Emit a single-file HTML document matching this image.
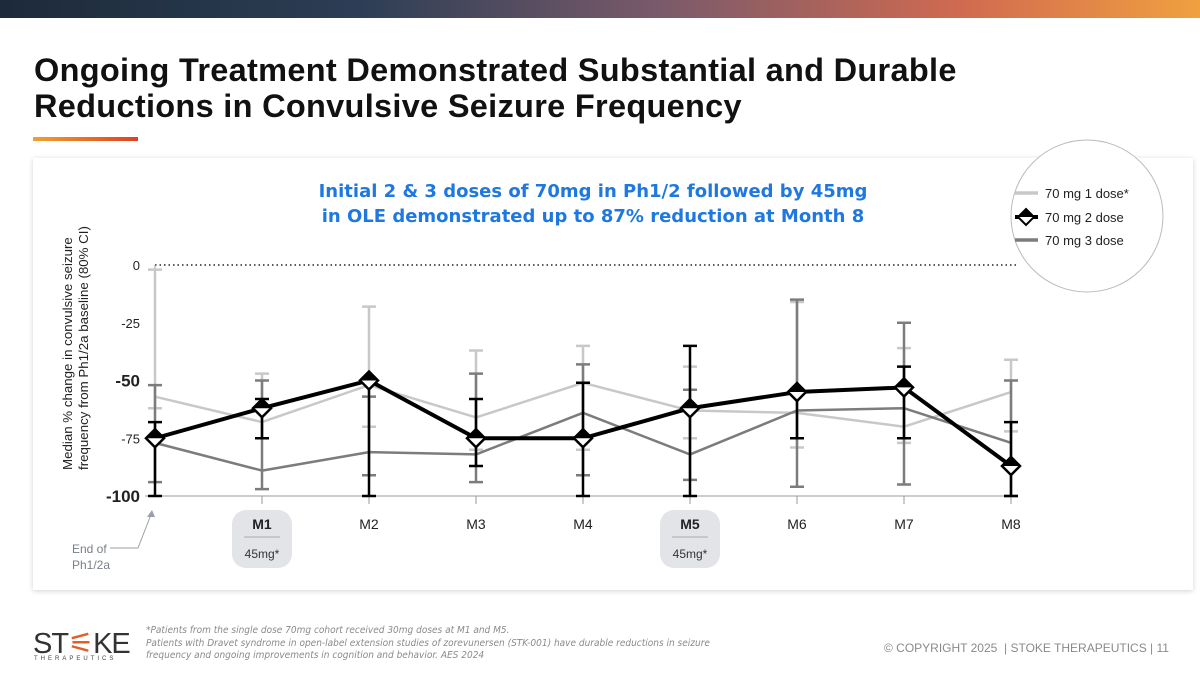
<!DOCTYPE html>
<html><head><meta charset="utf-8">
<style>
body{margin:0;width:1200px;height:675px;overflow:hidden;background:#fff;font-family:"Liberation Sans",sans-serif;position:relative}
.topbar{position:absolute;left:0;top:0;width:1200px;height:18px;background:linear-gradient(90deg,#1d2a3a 0%,#2c3e55 30%,#7a5a6a 55%,#d06a50 80%,#f0a040 100%)}
h1{position:absolute;left:34px;top:52px;margin:0;font-size:32.5px;line-height:36px;font-weight:bold;color:#111;font-family:"Liberation Sans",sans-serif;letter-spacing:0.3px;white-space:nowrap}
.uline{position:absolute;left:33px;top:137px;width:105px;height:4px;background:linear-gradient(90deg,#f0a030,#e04020)}
.card{position:absolute;left:33px;top:158px;width:1160px;height:432px;background:#fff;box-shadow:0 1px 5px rgba(0,0,0,0.18)}
.foot{position:absolute;color:#8a8a8a;font-style:italic;font-size:10px;font-family:"DejaVu Sans Condensed","Liberation Sans Narrow","Liberation Sans",sans-serif}
</style></head><body>
<div class="topbar"></div>
<h1>Ongoing Treatment Demonstrated Substantial and Durable<br>Reductions in Convulsive Seizure Frequency</h1>
<div class="uline"></div>
<div class="card"></div>
<svg id="chart" width="1200" height="675" style="position:absolute;left:0;top:0"></svg>
<div class="foot" style="left:146px;top:625px">*Patients from the single dose 70mg cohort received 30mg doses at M1 and M5.</div>
<div class="foot" style="left:146px;top:638px;line-height:12px;width:600px">Patients with Dravet syndrome in open-label extension studies of zorevunersen (STK-001) have durable reductions in seizure frequency and ongoing improvements in cognition and behavior. AES 2024</div>
<div style="position:absolute;left:33px;top:626px;font-size:29px;color:#333;letter-spacing:-1px">ST<span style="color:#e0602a">⚟</span>KE</div>
<div style="position:absolute;left:34px;top:656px;font-size:6px;color:#444;letter-spacing:3px">THERAPEUTICS</div>
<div style="position:absolute;left:884px;top:641px;font-size:12px;color:#8a8a8a">© COPYRIGHT 2025 &nbsp;| STOKE THERAPEUTICS | 11</div>
<script>
const cats=["BL","M1","M2","M3","M4","M5","M6","M7","M8"];
const dose1=[-57,-68,-52,-66,-51,-63,-64,-70,-55];
const dose1Hi=[-2,-47,-18,-37,-35,-44,-16,-36,-41];
const dose1Lo=[-62,-75,-70,-80,-80,-75,-79,-77,-72];
const dose3=[-77,-89,-81,-82,-64,-82,-63,-62,-77];
const dose3Hi=[-52,-50,-57,-47,-43,-54,-15,-25,-50];
const dose3Lo=[-94,-97,-91,-94,-91,-93,-96,-95,-100];
const dose2=[-75,-62,-50,-75,-75,-62,-55,-53,-87];
const dose2Hi=[-68,-58,-50,-58,-51,-35,-55,-44,-68];
const dose2Lo=[-100,-75,-100,-87,-100,-100,-75,-75,-100];
const yTicks=[0,-25,-50,-75,-100];
const xLabels=["M1","M2","M3","M4","M5","M6","M7","M8"];
const svg=document.getElementById('chart');const NS="http://www.w3.org/2000/svg";
const X=i=>155+i*107.0;const Y=v=>265-v*2.31;
function mk(t,a,p){const e=document.createElementNS(NS,t);for(const k in a)e.setAttribute(k,a[k]);(p||svg).appendChild(e);return e;}
[1,5].forEach(i=>{const r=mk('rect',{x:X(i)-30,y:510,width:60,height:58,rx:14,fill:"#e2e4e8"});

mk('line',{x1:X(i)-18,x2:X(i)+18,y1:537,y2:537,stroke:"#aaa"});
const t=mk('text',{x:X(i),y:558,"text-anchor":"middle","font-size":12,fill:"#333"});t.textContent="45mg*";
});
["Initial 2 & 3 doses of 70mg in Ph1/2 followed by 45mg","in OLE demonstrated up to 87% reduction at Month 8"].forEach((s,k)=>{
const t=mk('text',{x:593,y:197+k*25,"text-anchor":"middle","font-size":18,"font-weight":"bold",fill:"#1f78e0","font-family":"DejaVu Sans, Liberation Sans, sans-serif"});t.textContent=s;
});
const lc=mk('circle',{cx:1087,cy:216,r:76,fill:"#fff",stroke:"#bbb"});

mk('line',{x1:155,x2:1018,y1:Y(0),y2:Y(0),stroke:"#222","stroke-width":1.5,"stroke-dasharray":"1.5,3"});
mk('line',{x1:155,x2:155,y1:Y(0),y2:Y(-100),stroke:"#999"});
mk('line',{x1:145,x2:1018,y1:Y(-100),y2:Y(-100),stroke:"#999"});
yTicks.forEach(v=>{const big=(v==-50||v==-100);const t=mk('text',{x:140,y:Y(v)+(big?6:5),"text-anchor":"end","font-size":big?17:13,"font-weight":big?"bold":"normal",fill:"#222"});t.textContent=v;
});
xLabels.forEach((s,i)=>{mk('line',{x1:X(i+1),x2:X(i+1),y1:Y(-100),y2:Y(-100)+8,stroke:"#999"});
const b=(i==0||i==4);const t=mk('text',{x:X(i+1),y:529,"text-anchor":"middle","font-size":14,"font-weight":b?"bold":"normal",fill:"#222"});t.textContent=s;
});
[["Median % change in convulsive seizure",72],["frequency from Ph1/2a baseline (80% CI)",88]].forEach(([s,x])=>{
const t=mk('text',{x:x,y:470,"text-anchor":"start","font-size":13.3,fill:"#222",transform:`rotate(-90 ${x} 470)`});t.textContent=s;
});
let t1=mk('text',{x:72,y:553,"font-size":12,fill:"#7a8088"});t1.textContent="End of";

let t2=mk('text',{x:72,y:569,"font-size":12,fill:"#7a8088"});t2.textContent="Ph1/2a";

mk('path',{d:"M110 548 L138 548 L152 512",fill:"none",stroke:"#9aa0a8"});
mk('path',{d:"M152 510 l-5 7 l8 0 z",fill:"#9aa0a8"});
function series(vals,hi,lo,col,w,name,ew){
 vals.forEach((v,i)=>{const x=X(i);const e=mk('path',{d:`M${x} ${Y(hi[i])}V${Y(lo[i])}M${x-7} ${Y(hi[i])}h14M${x-7} ${Y(lo[i])}h14`,stroke:col,"stroke-width":ew,fill:"none"});
 });
 const p=mk('polyline',{points:vals.map((v,i)=>X(i)+","+Y(v)).join(" "),fill:"none",stroke:col,"stroke-width":w,"stroke-linejoin":"round"});
 
}
series(dose1,dose1Hi,dose1Lo,"#c8c8c8",2.5,"dose1",2.5);
series(dose3,dose3Hi,dose3Lo,"#7c7c7c",2.5,"dose3",2.5);
series(dose2,dose2Hi,dose2Lo,"#000",4,"dose2",2.5);
dose2.forEach((v,i)=>{const x=X(i),y=Y(v);
 const d=mk('path',{d:`M${x} ${y-9}L${x+9} ${y}L${x} ${y+9}L${x-9} ${y}Z`,fill:"#fff",stroke:"#000","stroke-width":2.5});
 
 mk('path',{d:`M${x} ${y-9}L${x+9} ${y}L${x-9} ${y}Z`,fill:"#000"});});
[["70 mg 1 dose*","#c8c8c8",193],["70 mg 2 dose","#000",217],["70 mg 3 dose","#7c7c7c",240]].forEach(([s,c,y],k)=>{
 const l=mk('line',{x1:1015,x2:1038,y1:y,y2:y,stroke:c,"stroke-width":k==1?4:3.5});
 
 if(k==1){mk('path',{d:`M1026 ${y-8}L1034 ${y}L1026 ${y+8}L1018 ${y}Z`,fill:"#fff",stroke:"#000","stroke-width":2});mk('path',{d:`M1026 ${y-8}L1034 ${y}L1018 ${y}Z`,fill:"#000"});}
 const t=mk('text',{x:1045,y:y+5,"font-size":13,fill:"#222"});t.textContent=s;
 });
</script>
</body></html>
